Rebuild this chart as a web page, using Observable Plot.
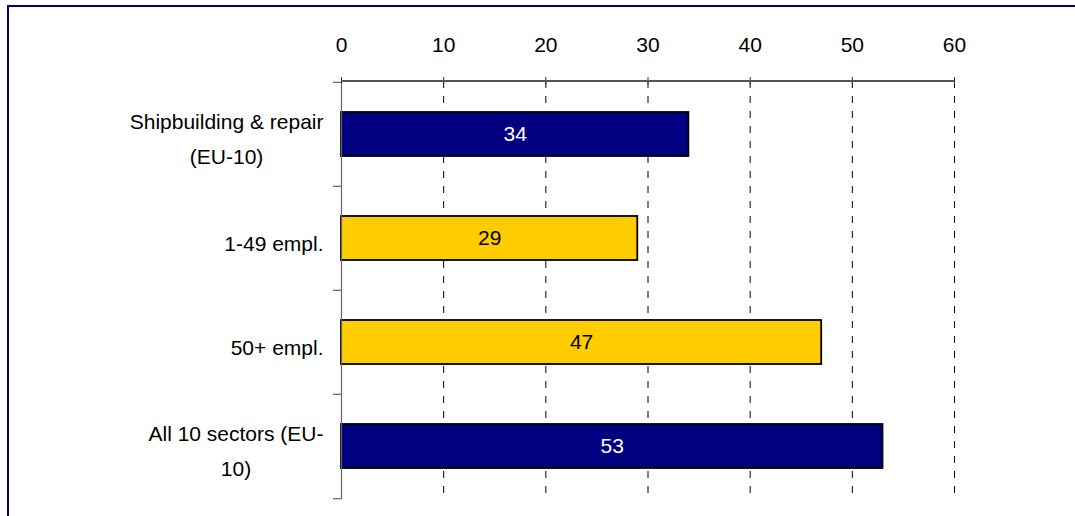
<!DOCTYPE html>
<html>
<head>
<meta charset="utf-8">
<script src="https://cdn.jsdelivr.net/npm/d3@7"></script>
<script src="https://cdn.jsdelivr.net/npm/@observablehq/plot@0.6"></script>
<style>
  html, body { margin: 0; padding: 0; background: #fff; overflow: hidden; }
  #wrap { position: relative; width: 1075px; height: 516px; }
  #wrap svg { position: absolute; left: 0; top: 0; }
  #border {
    position: absolute; left: 7px; top: 5px; width: 1200px; height: 600px;
    border-left: 2px solid #000080; border-top: 2px solid #000080;
    pointer-events: none;
  }
  #axis-line {
    position: absolute; left: 341px; top: 80px; width: 613px; height: 2px;
    background: #555; pointer-events: none; z-index: 2;
  }
</style>
</head>
<body>
<div id="wrap"><div id="border"></div><div id="axis-line"></div></div>
<script>
// Share of firms (%) by sector and size class
const categories = ["Shipbuilding & repair\n(EU-10)", "1-49 empl.", "50+ empl.", "All 10 sectors (EU-\n10)"];
const values = [34, 29, 47, 53];
const groups = ["sector", "size", "size", "sector"];
const xTicks = [0, 10, 20, 30, 40, 50, 60];

const data = categories.map((c, i) => ({category: c, value: values[i], group: groups[i]}));

const W = 1075, H = 516;
const marginTop = 81, marginBottom = 17, marginLeft = 341, marginRight = 121;
const step = (H - marginTop - marginBottom) / categories.length;
const font = "Liberation Sans, Arial, sans-serif";
const fs = 21;

const chart = Plot.plot({
  width: W,
  height: H,
  marginTop, marginBottom, marginLeft, marginRight,
  style: {fontFamily: font, fontSize: fs + "px", background: "transparent", color: "black"},
  x: {domain: [0, 60], axis: null, label: null},
  y: {type: "band", domain: categories, padding: 0, axis: null, label: null},
  color: {domain: ["sector", "size"], range: ["#000080", "#FFCC00"]},
  marks: [
    // dashed vertical gridlines
    Plot.gridX({ticks: xTicks.filter(t => t > 0), stroke: "black", strokeOpacity: 1, strokeDasharray: "7,8", strokeWidth: 1}),
    // bars
    Plot.barX(data, {x: "value", y: "category", fill: "group", stroke: "black", strokeWidth: 1.8, insetTop: 30, insetBottom: 30}),
    // value labels inside the bars
    Plot.text(data, {filter: d => d.group === "sector", x: d => d.value / 2, y: "category", text: d => String(d.value), fill: "white", fontSize: fs}),
    Plot.text(data, {filter: d => d.group === "size", x: d => d.value / 2, y: "category", text: d => String(d.value), fill: "black", fontSize: fs}),
    // vertical axis line and ticks between categories
    Plot.ruleX([0], {stroke: "#666", strokeWidth: 1.2}),
    Plot.axisY({ticks: categories, tickSize: 8, dy: -step / 2, stroke: "#444", fill: "none", tickFormat: () => "", label: null}),
    Plot.axisY({ticks: categories.slice(-1), tickSize: 8, dy: step / 2, stroke: "#444", fill: "none", tickFormat: () => "", label: null}),
    // top axis ticks and labels
    Plot.axisX({anchor: "top", ticks: xTicks, tickSize: 7, dy: 2, stroke: "#333", fill: "none", tickFormat: () => "", label: null}),
    Plot.axisX({anchor: "top", ticks: xTicks, tickSize: 0, tickPadding: 30, fontSize: fs, fill: "black", label: null}),
    // category labels, lines centred within each block
    Plot.text(data, {x: 0, y: "category", text: "category", textAnchor: "middle", lineAnchor: "middle", lineHeight: 1.68, dx: -18, dy: 1, fontSize: fs, fill: "black", className: "cat-labels"})
  ]
});

const wrap = document.getElementById("wrap");
wrap.prepend(chart);

// right-align each label block while keeping its lines centred
chart.querySelectorAll(".cat-labels text").forEach(t => {
  const w = t.getBBox().width;
  t.setAttribute("transform", (t.getAttribute("transform") || "") + ` translate(${-w / 2},0)`);
});
</script>
</body>
</html>
